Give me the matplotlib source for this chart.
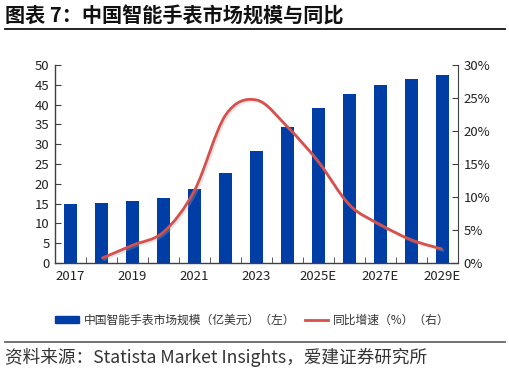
import matplotlib
matplotlib.use('Agg')
import matplotlib.pyplot as plt
import matplotlib.patheffects as pe
from matplotlib.path import Path
from matplotlib.patches import PathPatch
from matplotlib.lines import Line2D
import numpy as np

plt.rcParams['font.family'] = ['Noto Sans CJK SC', 'DejaVu Sans']

years = ['2017', '2018', '2019', '2020', '2021', '2022', '2023',
         '2024E', '2025E', '2026E', '2027E', '2028E', '2029E']
market_size = [15.0, 15.2, 15.6, 16.3, 18.7, 22.6, 28.3,
               34.3, 39.1, 42.7, 45.0, 46.4, 47.4]
# growth rate (%) from 2018 on
growth_years = years[1:]
growth = [0.7, 2.7, 4.7, 11.0, 22.4, 24.7, 20.6, 15.3, 8.8, 5.8, 3.5, 2.1]
tick_labels = ['2017', '', '2019', '', '2021', '', '2023', '',
               '2025E', '', '2027E', '', '2029E']

BLUE = '#003DA5'
RED = '#D6504C'
AXIS = '#404040'


def _smooth_path(xs, ys):
    # Catmull-Rom style bezier through the points (like a "smoothed line")
    verts = [(xs[0], ys[0])]
    codes = [Path.MOVETO]
    n = len(xs)
    for i in range(n - 1):
        x0, y0 = (xs[i - 1], ys[i - 1]) if i > 0 else (xs[i], ys[i])
        x1, y1 = xs[i], ys[i]
        x2, y2 = xs[i + 1], ys[i + 1]
        x3, y3 = (xs[i + 2], ys[i + 2]) if i + 2 < n else (x2, y2)
        c1 = (x1 + (x2 - x0) / 6, y1 + (y2 - y0) / 6)
        c2 = (x2 - (x3 - x1) / 6, y2 - (y3 - y1) / 6)
        verts += [c1, c2, (x2, y2)]
        codes += [Path.CURVE4] * 3
    return Path(verts, codes)


fig = plt.figure(figsize=(5.1, 3.75), dpi=100)
ax = fig.add_axes([0.108, 0.2987, 0.79, 0.528])

x = np.arange(len(years))
ax.bar(x, market_size, width=0.4, color=BLUE, zorder=2)
ax.set_xlim(-0.5, len(years) - 0.5)
ax.set_ylim(0, 50)
ax.set_yticks(np.arange(0, 51, 5))
ax.set_xticks(x)
ax.set_xticklabels(tick_labels)
ax.set_xticks(np.arange(0.5, len(years) - 1, 1), minor=True)
ax.tick_params(axis='x', which='major', length=0, pad=5, labelsize=9.5, colors='#222222')
ax.tick_params(axis='x', which='minor', length=4, direction='in', color=AXIS)
ax.tick_params(axis='y', length=4, direction='in', color=AXIS, labelsize=9.5,
               labelcolor='#222222', pad=4)
for s in ['top', 'right']:
    ax.spines[s].set_visible(False)
for s in ['left', 'bottom']:
    ax.spines[s].set_color(AXIS)
    ax.spines[s].set_linewidth(1.0)

ax2 = ax.twinx()
ax2.set_ylim(0, 30)
ax2.set_yticks(np.arange(0, 31, 5))
ax2.set_yticklabels(['%d%%' % v for v in range(0, 31, 5)])
ax2.tick_params(axis='y', length=4, direction='in', color=AXIS, labelsize=9.5,
                labelcolor='#222222', pad=4)
for s in ['top', 'left', 'bottom']:
    ax2.spines[s].set_visible(False)
ax2.spines['right'].set_color(AXIS)

gx = [years.index(y) for y in growth_years]
path = _smooth_path(gx, growth)
line = PathPatch(path, facecolor='none', edgecolor=RED, lw=2.0, zorder=3,
                 path_effects=[pe.SimpleLineShadow(offset=(1.2, -1.2), shadow_color='#aaaaaa', alpha=0.3),
                               pe.Normal()])
ax2.add_patch(line)

# legend
handles = [plt.Rectangle((0, 0), 1, 1, color=BLUE),
           Line2D([0], [0], color=RED, lw=2.0)]
fig.legend(handles, ['中国智能手表市场规模（亿美元）（左）', '同比增速（%）（右）'],
           loc='center', bbox_to_anchor=(0.495, 0.147), ncol=2, frameon=False,
           fontsize=8.5, handlelength=2.0, handleheight=0.55, columnspacing=0.8,
           handletextpad=0.4, labelcolor='#333333')

# title and footer
fig.text(0.01, 0.957, '图表 7：中国智能手表市场规模与同比', fontsize=14.5,
         fontweight='bold', color='#111111', va='center', ha='left')
fig.add_artist(Line2D([0.01, 0.99], [0.923, 0.923], color='#111111', lw=1.3))
fig.add_artist(Line2D([0.01, 0.99], [0.087, 0.087], color='#666666', lw=1.3))
fig.text(0.01, 0.047, '资料来源：Statista Market Insights，爱建证券研究所',
         fontsize=12.7, color='#333333', va='center', ha='left')

fig.savefig('out.png', dpi=100)
